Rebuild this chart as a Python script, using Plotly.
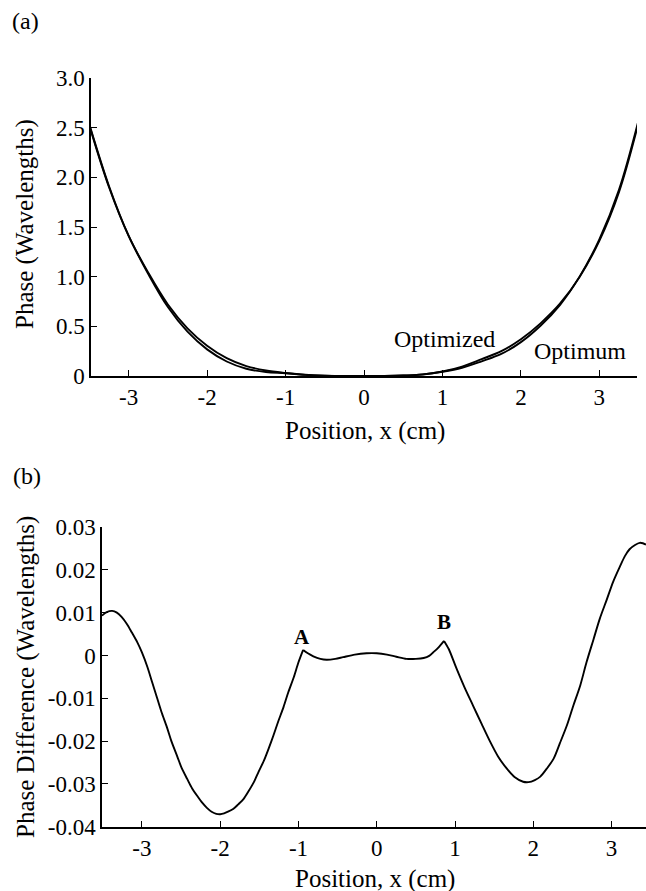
import plotly.graph_objects as go

# ---------------- data ----------------
# Panel (a): phase profiles
x_phase = [-3.5, -3.25, -3.0, -2.75, -2.5, -2.25, -2.0, -1.75, -1.5, -1.25, -1.0, -0.75,
           -0.5, -0.25, 0.0, 0.25, 0.5, 0.75, 1.0, 1.25, 1.5, 1.75, 2.0, 2.25, 2.5,
           2.75, 3.0, 3.25, 3.5]
phase_optimum = [2.52, 1.90, 1.41, 1.04, 0.72, 0.48, 0.305, 0.18, 0.10, 0.055, 0.03, 0.012,
                 0.004, 0.001, 0.0, 0.001, 0.005, 0.015, 0.045, 0.095, 0.17, 0.25, 0.37, 0.53, 0.73,
                 1.00, 1.36, 1.85, 2.55]
phase_optimized = [2.53, 1.91, 1.41, 1.027, 0.694, 0.446, 0.268, 0.146, 0.073, 0.040, 0.028, 0.0115,
                   0.0033, 0.0012, 0.0004, 0.0008, 0.0043, 0.016, 0.043, 0.083, 0.148, 0.222, 0.341, 0.506, 0.717,
                   1.003, 1.376, 1.875, 2.576]

# Panel (b): phase difference (three smooth pieces joined at the kinks A and B)
x_diff_left = [-3.51, -3.45, -3.38, -3.32, -3.26, -3.19, -3.13, -3.06, -3.0, -2.93, -2.87, -2.81,
               -2.75, -2.68, -2.62, -2.55, -2.49, -2.42, -2.36, -2.29, -2.23, -2.17, -2.11, -2.05,
               -2.0, -1.95, -1.90, -1.83, -1.77, -1.70, -1.64, -1.57, -1.51, -1.44, -1.38, -1.32,
               -1.26, -1.19, -1.13, -1.06, -1.0, -0.94]
diff_left = [0.0093, 0.0101, 0.0104, 0.0100, 0.0090, 0.0073, 0.0054, 0.0031, 0.0007, -0.0027, -0.0062, -0.0097,
             -0.0132, -0.0168, -0.0202, -0.0235, -0.0264, -0.0289, -0.0310, -0.0329, -0.0344, -0.0356, -0.0365, -0.0370,
             -0.0371, -0.0369, -0.0365, -0.0358, -0.0348, -0.0335, -0.0318, -0.0296, -0.0272, -0.0245, -0.0217, -0.0187,
             -0.0155, -0.0120, -0.0086, -0.0051, -0.0016, 0.0013]
x_diff_mid = [-0.94, -0.88, -0.81, -0.72, -0.64, -0.53, -0.43, -0.28, -0.13, 0.0, 0.13, 0.25, 0.38,
              0.5, 0.6, 0.67, 0.72, 0.79, 0.86]
diff_mid = [0.0013, 0.0005, -0.0002, -0.0008, -0.0010, -0.0008, -0.0004, 0.0002, 0.0005, 0.0005, 0.0002,
            -0.0003, -0.0008, -0.0008, -0.0006, -0.0001, 0.0007, 0.0019, 0.0034]
x_diff_right = [0.86, 0.92, 1.02, 1.12, 1.23, 1.34, 1.45, 1.55, 1.66, 1.76, 1.87, 1.94, 2.02, 2.09, 2.17,
                2.26, 2.34, 2.43, 2.51, 2.60, 2.68, 2.77, 2.85, 2.94, 3.02, 3.11, 3.17, 3.23, 3.30, 3.36,
                3.40, 3.44]
diff_right = [0.0034, 0.0015, -0.0031, -0.0074, -0.0117, -0.0160, -0.0202, -0.0236, -0.0264, -0.0284,
              -0.0295, -0.0296, -0.0291, -0.0283, -0.0265, -0.0241, -0.0205, -0.0163, -0.0118, -0.0070,
              -0.0016, 0.0038, 0.0086, 0.0131, 0.0172, 0.0209, 0.0232, 0.0248, 0.0258, 0.0263, 0.0262, 0.0259]

x_ticks = [-3, -2, -1, 0, 1, 2, 3]
x_ticktext = ["-3", "-2", "-1", "0", "1", "2", "3"]
y_ticks_a = [0, 0.5, 1.0, 1.5, 2.0, 2.5, 3.0]
y_ticktext_a = ["0", "0.5", "1.0", "1.5", "2.0", "2.5", "3.0"]
y_ticks_b = [-0.04, -0.03, -0.02, -0.01, 0, 0.01, 0.02, 0.03]
y_ticktext_b = ["-0.04", "-0.03", "-0.02", "-0.01", "0", "0.01", "0.02", "0.03"]

# ---------------- figure ----------------
W, H = 646, 891
FONT = "Liberation Serif, Times New Roman, serif"
line = dict(color="black", width=1.9)

fig = go.Figure()
fig.add_trace(go.Scatter(x=x_phase, y=phase_optimum, mode="lines", line_shape="spline",
                         line=line, xaxis="x", yaxis="y", showlegend=False))
fig.add_trace(go.Scatter(x=x_phase, y=phase_optimized, mode="lines", line_shape="spline",
                         line=line, xaxis="x", yaxis="y", showlegend=False))
for xs, ys in [(x_diff_left, diff_left), (x_diff_mid, diff_mid), (x_diff_right, diff_right)]:
    fig.add_trace(go.Scatter(x=xs, y=ys, mode="lines", line_shape="spline",
                             line=dict(color="black", width=1.9, smoothing=0.8),
                             xaxis="x2", yaxis="y2", showlegend=False))

def px(x):
    return x / W

def py(y):
    return 1 - y / H

axis_common = dict(showgrid=False, zeroline=False, showline=True, linecolor="black", linewidth=1.5,
                   ticks="inside", ticklen=6, tickwidth=1.3, tickcolor="black", automargin=False,
                   tickfont=dict(family=FONT, size=23, color="black"), mirror=False)

fig.update_layout(
    template="none",
    width=W, height=H,
    margin=dict(l=0, r=0, t=0, b=0, pad=0),
    paper_bgcolor="white", plot_bgcolor="white",
    font=dict(family=FONT, color="black"),
    xaxis=dict(domain=[px(91), px(637)], range=[-3.48, 3.48], anchor="y",
               tickvals=x_ticks, ticktext=x_ticktext, **axis_common),
    yaxis=dict(domain=[py(376), py(78)], range=[0, 3.0], anchor="x",
               tickvals=y_ticks_a, ticktext=y_ticktext_a, **axis_common),
    xaxis2=dict(domain=[px(102), 1.0], range=[-3.51, 3.44], anchor="y2",
                tickvals=x_ticks, ticktext=x_ticktext, **axis_common),
    yaxis2=dict(domain=[py(826.7), py(527)], range=[-0.04, 0.03], anchor="x2",
                tickvals=y_ticks_b, ticktext=y_ticktext_b, **axis_common),
)

def ann(text, x, y, size=24, angle=0, xref="paper", yref="paper", bold=False):
    t = f"<b>{text}</b>" if bold else text
    fig.add_annotation(text=t, x=x, y=y, xref=xref, yref=yref, showarrow=False,
                       xanchor="center", yanchor="middle", textangle=angle,
                       font=dict(family=FONT, size=size, color="black"))

# panel labels
ann("(a)", px(25), py(21))
ann("(b)", px(27), py(476))
# axis titles
ann("Phase (Wavelengths)", px(25), py(224), size=25, angle=-90)
ann("Position, x (cm)", px(365), py(431), size=25)
ann("Phase Difference (Wavelengths)", px(26), py(677), size=25, angle=-90)
ann("Position, x (cm)", px(375), py(879), size=25)
# curve labels
ann("Optimized", 1.02, 0.37, xref="x", yref="y")
ann("Optimum", 2.75, 0.25, xref="x", yref="y")
ann("A", -0.95, 0.0044, size=21, xref="x2", yref="y2", bold=True)
ann("B", 0.86, 0.0078, size=21, xref="x2", yref="y2", bold=True)

fig.write_html("out.html")
